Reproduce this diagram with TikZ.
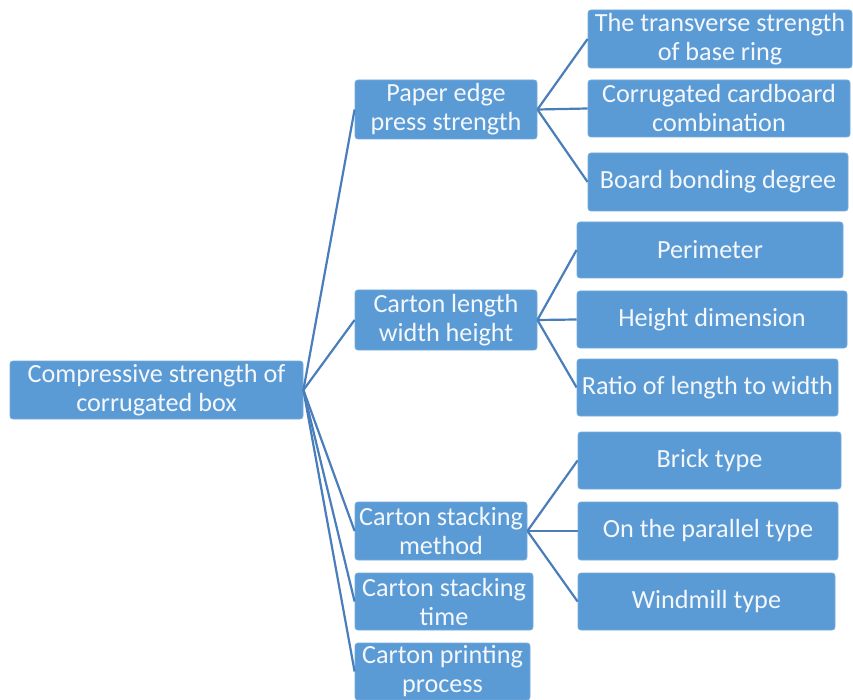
\documentclass[tikz,border=0pt]{standalone}
\usepackage{fontspec}
\setmainfont{Carlito}
\definecolor{boxfill}{HTML}{5B9BD5}
\definecolor{linecol}{HTML}{4A7EBB}
\definecolor{txt}{HTML}{F4F7FB}
\begin{document}
\begin{tikzpicture}[x=1pt,y=-1pt,
  bx/.style={draw=boxfill!85!white, line width=0.8pt, fill=boxfill, rounded corners=3pt,
    text=txt, align=center, inner sep=0pt,
    font=\fontsize{26.2}{29}\selectfont},
  conn/.style={draw=linecol, line width=2.2pt}]
\useasboundingbox (0,0) rectangle (853,700);
\node[bx, minimum width=293, minimum height=58] (root) at (156.5,390) {Compressive strength of\\corrugated box};
\node[bx, minimum width=182, minimum height=59] (paper) at (446,109.5) {Paper edge\\press strength};
\node[bx, minimum width=182, minimum height=60] (len) at (446,320) {Carton length\\width height};
\node[bx, minimum width=172, minimum height=58] (meth) at (441,531) {Carton stacking\\method};
\node[bx, minimum width=178, minimum height=57] (time) at (444,601.5) {Carton stacking\\time};
\node[bx, minimum width=175, minimum height=57] (print) at (442.5,671.5) {Carton printing\\process};
\node[bx, minimum width=264, minimum height=58] (trans) at (720,39) {The transverse strength\\of base ring};
\node[bx, minimum width=262, minimum height=57] (corr) at (719,108.5) {Corrugated cardboard\\combination};
\node[bx, minimum width=260, minimum height=58] (board) at (718,182) {Board bonding degree};
\node[bx, minimum width=266, minimum height=56] (peri) at (710,250) {Perimeter};
\node[bx, minimum width=270, minimum height=57] (hdim) at (712,319.5) {Height dimension};
\node[bx, minimum width=261, minimum height=57] (ratio) at (707.5,387.5) {Ratio of length to width};
\node[bx, minimum width=263, minimum height=57] (brick) at (709.5,460.5) {Brick type};
\node[bx, minimum width=260, minimum height=58] (para) at (708,531) {On the parallel type};
\node[bx, minimum width=257, minimum height=57] (wind) at (706.5,601.5) {Windmill type};
\foreach \c in {paper,len,meth,time,print} \draw[conn] (root.east) -- (\c.west);
\foreach \c in {trans,corr,board} \draw[conn] (paper.east) -- (\c.west);
\foreach \c in {peri,hdim,ratio} \draw[conn] (len.east) -- (\c.west);
\foreach \c in {brick,para,wind} \draw[conn] (meth.east) -- (\c.west);
\end{tikzpicture}
\end{document}
